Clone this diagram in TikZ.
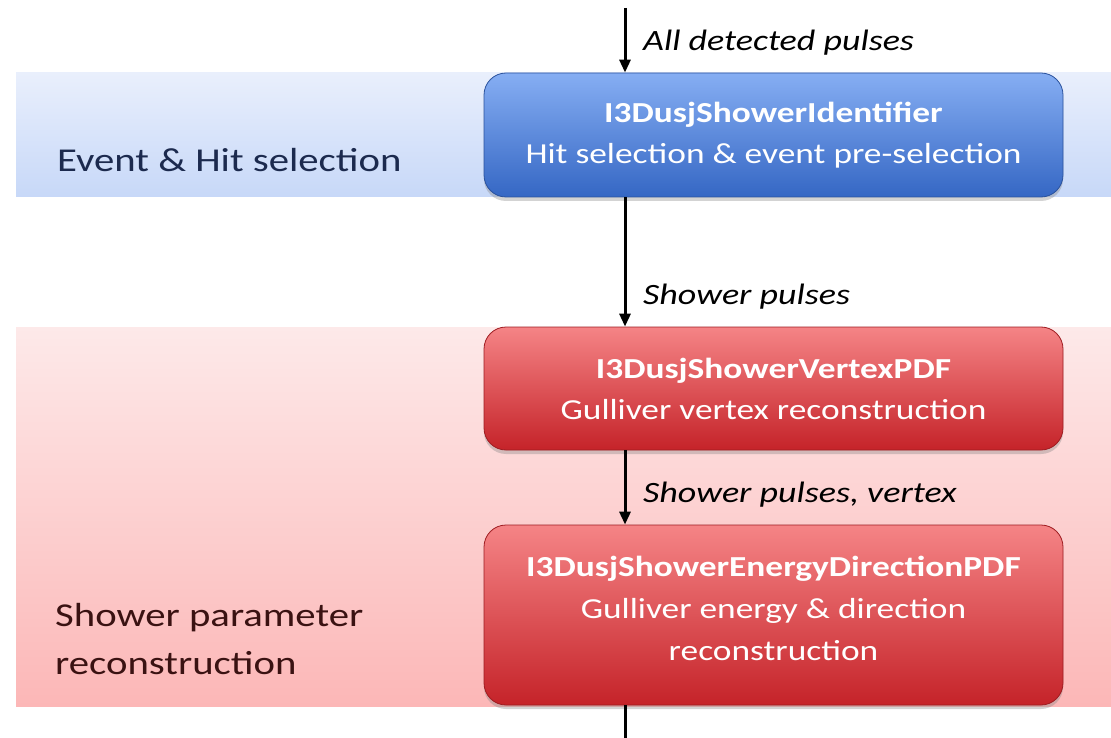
\documentclass[tikz,border=0pt]{standalone}
\usepackage{fontspec}
\setmainfont{Carlito}[FakeStretch=1.22]
\usetikzlibrary{arrows.meta,shadows,shadings}
\definecolor{bandblueT}{HTML}{E9EFFC}
\definecolor{bandblueB}{HTML}{C7D8F8}
\definecolor{bandredT}{HTML}{FDE9E9}
\definecolor{bandredB}{HTML}{FCB7B7}
\definecolor{boxblueT}{HTML}{86AEF3}
\definecolor{boxblueB}{HTML}{3567C4}
\definecolor{boxredT}{HTML}{F58486}
\definecolor{boxredB}{HTML}{C52329}
\definecolor{navytxt}{HTML}{1C2A4E}
\definecolor{maroontxt}{HTML}{3A1212}
\tikzset{
  procbox/.style={rounded corners=22pt, minimum width=579pt, inner sep=0pt,
    text=white, align=center, font=\fontsize{29}{41}\selectfont,
    drop shadow={opacity=0.35, shadow xshift=0pt, shadow yshift=-4pt}},
  bluebox/.style={procbox, top color=boxblueT, bottom color=boxblueB, draw=boxblueB!80!black, line width=0.8pt},
  redbox/.style={procbox, top color=boxredT, bottom color=boxredB, draw=boxredB!80!black, line width=0.8pt},
  boxtext/.style={text=white, align=center, inner sep=0pt, font=\fontsize{29}{42}\selectfont},
  flow/.style={line width=3pt, -{Triangle[length=13pt,width=11pt]}},
  flowlbl/.style={anchor=west, font=\fontsize{29.5}{34}\selectfont\itshape, text=black, inner sep=0pt},
  bandlbl/.style={anchor=west, align=left, inner sep=0pt, font=\fontsize{33.4}{48}\selectfont}
}
\begin{document}
\begin{tikzpicture}[x=1pt,y=-1pt]
\useasboundingbox (0,0) rectangle (1111,738);
% bands
\shade[top color=bandblueT, bottom color=bandblueB] (16,73) rectangle (1111,197);
\shade[top color=bandredT, bottom color=bandredB] (16,327) rectangle (1111,706);
% band labels
\node[bandlbl, text=navytxt] (lbl1) at (57,160) {Event \& Hit selection};
\node[bandlbl, text=maroontxt] (lbl2) at (55,639) {Shower parameter\\reconstruction};
% boxes
\node[bluebox, minimum height=124pt] (b1) at (773.5,135) {\textbf{I3DusjShowerIdentifier}\\Hit selection \& event pre-selection};
\node[redbox, minimum height=123pt] (b2) at (773.5,388.5) {\textbf{I3DusjShowerVertexPDF}\\Gulliver vertex reconstruction};
\node[redbox, minimum height=180pt] (b3) at (773.5,615) {};
\node[boxtext] (b3t) at ([yshift=7pt]b3.center) {\textbf{I3DusjShowerEnergyDirectionPDF}\\Gulliver energy \& direction\\reconstruction};
% arrows
\coordinate (top) at (625,8);
\coordinate (bot) at (625,738);
\draw[flow] (top) -- (top |- b1.north);
\draw[flow] (b1.south -| top) -- (b2.north -| top);
\draw[flow] (b2.south -| top) -- (b3.north -| top);
\draw[line width=3pt] (b3.south -| top) -- (bot);
% flow labels
\node[flowlbl] (f1) at (643,43) {All detected pulses};
\node[flowlbl] (f2) at (643,297) {Shower pulses};
\node[flowlbl] (f3) at (643,495) {Shower pulses, vertex};
\end{tikzpicture}
\end{document}
